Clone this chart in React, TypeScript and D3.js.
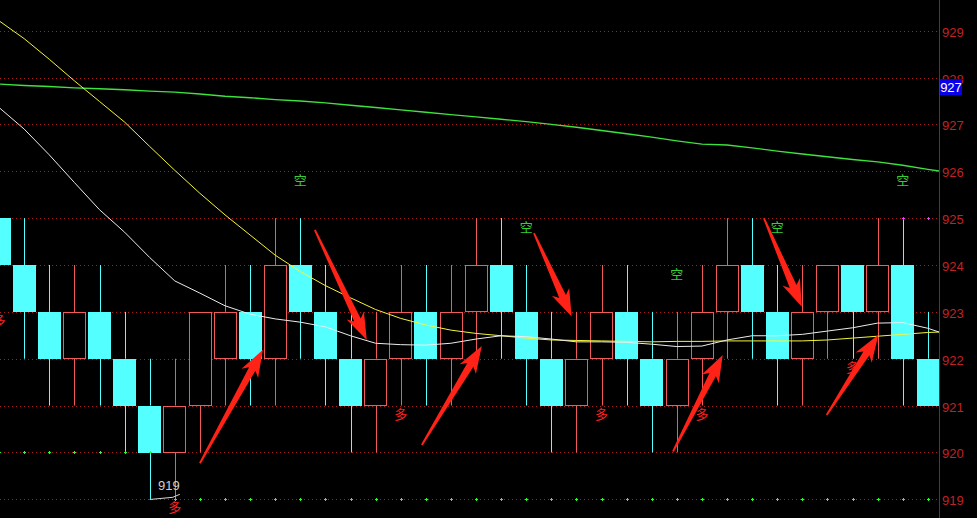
import React from "react";
import * as d3 from "d3";

// Bar prices, one entry per bar (index 0 is the left-most, partly clipped bar)
const opens = [925, 924, 923, 922, 923, 922, 921, 920, 921, 922, 923, 922, 924, 923, 922, 921, 922, 923, 922, 923, 924, 923, 922, 921, 922, 923, 922, 921, 922, 923, 924, 923, 922, 923, 924, 923, 924, 922];
const highs = [925, 925, 924, 924, 924, 923, 922, 922, 923, 924, 924, 925, 925, 924, 923, 923, 924, 924, 924, 925, 925, 924, 923, 923, 924, 924, 923, 923, 924, 925, 925, 924, 924, 924, 924, 925, 925, 923];
const lows = [923, 922, 921, 921, 921, 920, 919, 919, 920, 921, 921, 921, 922, 921, 920, 920, 921, 921, 921, 922, 922, 921, 920, 920, 921, 921, 920, 920, 921, 922, 922, 921, 921, 922, 922, 922, 921, 921];
const closes = [924, 923, 922, 923, 922, 921, 920, 921, 923, 923, 922, 924, 923, 922, 921, 922, 923, 922, 923, 924, 923, 922, 921, 922, 923, 922, 921, 922, 923, 924, 923, 922, 923, 924, 923, 924, 922, 921];

// Moving averages (one more point than bars: the line runs on past the last bar)
const maShort = [927.36, 926.9, 926.35, 925.76, 925.18, 924.7, 924.16, 923.66, 923.4, 923.13, 922.95, 922.85, 922.78, 922.68, 922.49, 922.33, 922.3, 922.29, 922.33, 922.42, 922.49, 922.47, 922.42, 922.36, 922.36, 922.35, 922.31, 922.26, 922.27, 922.4, 922.49, 922.49, 922.52, 922.59, 922.66, 922.76, 922.77, 922.65, 922.47];
const maMid = [929.21, 928.83, 928.39, 927.93, 927.49, 927.05, 926.53, 926.02, 925.53, 925.07, 924.64, 924.21, 923.86, 923.56, 923.3, 923.05, 922.86, 922.72, 922.61, 922.54, 922.49, 922.44, 922.4, 922.39, 922.38, 922.37, 922.36, 922.37, 922.37, 922.38, 922.38, 922.38, 922.38, 922.4, 922.44, 922.48, 922.52, 922.56, 922.58];
const maLong = [927.86, 927.83, 927.81, 927.78, 927.76, 927.74, 927.71, 927.69, 927.65, 927.6, 927.57, 927.53, 927.5, 927.46, 927.41, 927.36, 927.31, 927.26, 927.21, 927.16, 927.11, 927.06, 927.0, 926.94, 926.87, 926.8, 926.73, 926.65, 926.58, 926.56, 926.5, 926.43, 926.37, 926.31, 926.25, 926.2, 926.13, 926.04, 925.96];

// Support / resistance markers per bar
const supportLevels = [920, 920, 920, 920, 920, 920, 920, 919, 919, 919, 919, 919, 919, 919, 919, 919, 919, 919, 919, 919, 919, 919, 919, 919, 919, 919, 919, 919, 919, 919, 919, 919, 919, 919, 919, 919, 919, 919];
const resistanceBars = [36, 37];
const resistanceLevel = 925;

// Signal labels
const shortSignalBars = [12, 21, 27, 31, 36];
const longSignalBars = [0, 7, 16, 24, 28, 34];

// Price axis
const priceTicks = [919, 920, 921, 922, 923, 924, 925, 926, 927, 928, 929];
const lastPrice = 927;
const lastPriceLevel = 928;
const lowestBar = 6;
const lowestPrice = 919;

// Annotation arrows: [bar index, price] from tail to tip
const arrows: [number, number, number, number][] = [
  [8.0, 919.77, 10.51, 922.19],
  [12.58, 924.75, 14.65, 922.4],
  [16.84, 920.16, 19.23, 922.27],
  [21.31, 924.68, 22.81, 922.9],
  [26.85, 920.02, 28.83, 922.08],
  [30.47, 925.0, 31.98, 923.11],
  [32.97, 920.8, 35.03, 922.51],
];

const W = 977;
const H = 518;
const plotRight = 939;

const UP = "#f25a5a";
const DOWN = "#54ffff";

function arrowPath(x1: number, y1: number, x2: number, y2: number) {
  const dx = x2 - x1, dy = y2 - y1;
  const L = Math.hypot(dx, dy);
  const ux = dx / L, uy = dy / L;
  const nx = -uy, ny = ux;
  const headLen = 27, headW = 9.5, shaftW = 3.6, tailW = 0.9, notch = 5;
  const bx = x2 - ux * (headLen - notch), by = y2 - uy * (headLen - notch);
  const hx = x2 - ux * headLen, hy = y2 - uy * headLen;
  const pts: [number, number][] = [
    [x1 + nx * tailW, y1 + ny * tailW],
    [bx + nx * shaftW, by + ny * shaftW],
    [hx + nx * headW, hy + ny * headW],
    [x2, y2],
    [hx - nx * headW, hy - ny * headW],
    [bx - nx * shaftW, by - ny * shaftW],
    [x1 - nx * tailW, y1 - ny * tailW],
  ];
  return "M" + pts.map((p) => p[0].toFixed(1) + "," + p[1].toFixed(1)).join("L") + "Z";
}

function Cross({ cx, cy, color }: { cx: number; cy: number; color: string }) {
  return (
    <g fill={color}>
      <rect x={cx - 1} y={cy} width={3} height={1} />
      <rect x={cx} y={cy - 1} width={1} height={3} />
    </g>
  );
}

export default function App() {
  const x = d3.scaleLinear().domain([0, 37]).range([-0.9, 927.8]);
  const y = d3.scaleLinear().domain([919, 929]).range([499.3, 30.7]);
  const bodyHalf = 11.3;

  const line = d3
    .line<number>()
    .x((_, i) => x(i))
    .y((d) => y(d));

  const px = (v: number) => Math.round(v) + 0.5;

  return (
    <svg
      width={W}
      height={H}
      style={{ position: "absolute", left: 0, top: 0, display: "block", background: "#000" }}
    >
      <defs>
        <clipPath id="plot">
          <rect x={0} y={0} width={plotRight} height={H} />
        </clipPath>
      </defs>
      <rect x={0} y={0} width={W} height={H} fill="#000" />

      {/* dotted price grid */}
      {priceTicks.map((p) => (
        <line
          key={"g" + p}
          x1={0}
          x2={plotRight}
          y1={px(y(p))}
          y2={px(y(p))}
          stroke="#a81e1e"
          strokeWidth={1}
          strokeDasharray="1 3"
        />
      ))}

      <g clipPath="url(#plot)">
        {/* candles */}
        {opens.map((o, i) => {
          const c = closes[i];
          const up = c > o;
          const cx = x(i);
          const wx = px(cx);
          const top = y(Math.max(o, c));
          const bot = y(Math.min(o, c));
          const col = up ? UP : DOWN;
          return (
            <g key={"c" + i}>
              <line x1={wx} x2={wx} y1={y(highs[i])} y2={top} stroke={col} strokeWidth={1} />
              <line x1={wx} x2={wx} y1={bot} y2={y(lows[i])} stroke={col} strokeWidth={1} />
              {up ? (
                <rect
                  x={Math.round(cx - bodyHalf) + 0.5}
                  y={Math.round(top) + 0.5}
                  width={Math.round(bodyHalf * 2) - 1}
                  height={Math.round(bot - top) - 1}
                  fill="#000"
                  stroke={col}
                  strokeWidth={1}
                />
              ) : (
                <rect
                  x={Math.round(cx - bodyHalf)}
                  y={Math.round(top)}
                  width={Math.round(bodyHalf * 2)}
                  height={Math.round(bot - top)}
                  fill={col}
                />
              )}
            </g>
          );
        })}

        {/* support markers */}
        {supportLevels.map((lv, i) => (
          <Cross key={"s" + i} cx={Math.round(x(i))} cy={Math.round(y(lv))} color="#2aff2a" />
        ))}
        {resistanceBars.map((i) => (
          <Cross key={"r" + i} cx={Math.round(x(i))} cy={Math.round(y(resistanceLevel))} color="#ff33ff" />
        ))}

        {/* moving averages */}
        <path d={line(maLong) || ""} fill="none" stroke="#3ee23e" strokeWidth={1.4} />
        <path d={line(maMid) || ""} fill="none" stroke="#f4f43c" strokeWidth={1} />
        <path d={line(maShort) || ""} fill="none" stroke="#ececec" strokeWidth={1} />

        {/* lowest price marker */}
        <polyline
          points={`${x(lowestBar)},${px(y(lowestPrice))} ${x(lowestBar + 1) - 2},${y(lowestPrice) - 2} ${x(lowestBar + 1) + 5},${y(lowestPrice) - 5}`}
          fill="none"
          stroke="#d8d8d8"
          strokeWidth={1}
        />
        <text
          x={x(lowestBar + 1) + 5}
          y={y(lowestPrice) - 9}
          textAnchor="end"
          fill="#cfcfcf"
          fontSize={13}
          fontFamily="'Liberation Sans', Arial, sans-serif"
        >
          {lowestPrice}
        </text>

        {/* signal labels */}
        {shortSignalBars.map((i) => (
          <text
            key={"k" + i}
            x={x(i)}
            y={y(highs[i]) - 33}
            textAnchor="middle"
            fill="#35cf35"
            fontSize={13}
            fontFamily="'Noto Sans CJK SC', sans-serif"
          >
            空
          </text>
        ))}
        {longSignalBars.map((i) => (
          <text
            key={"d" + i}
            x={x(i)}
            y={y(lows[i]) + 13}
            textAnchor="middle"
            fill="#ff2020"
            fontSize={13}
            fontFamily="'Noto Sans CJK SC', sans-serif"
          >
            多
          </text>
        ))}

        {/* annotation arrows */}
        {arrows.map((a, k) => (
          <path key={"a" + k} d={arrowPath(x(a[0]), y(a[1]), x(a[2]), y(a[3]))} fill="#ff2217" />
        ))}
      </g>

      {/* price axis */}
      <line x1={plotRight + 0.5} x2={plotRight + 0.5} y1={0} y2={H} stroke="#8e1f1f" strokeWidth={1} />
      {priceTicks.map((p) => (
        <text
          key={"t" + p}
          x={plotRight + 3}
          y={y(p) + 6}
          fill="#c02222"
          fontSize={13}
          fontFamily="'Liberation Sans', Arial, sans-serif"
        >
          {p}
        </text>
      ))}
      <rect x={plotRight + 1} y={Math.round(y(lastPriceLevel)) + 1} width={22} height={16} fill="#0a00e8" />
      <text
        x={plotRight + 12}
        y={y(lastPriceLevel) + 14}
        textAnchor="middle"
        fill="#ffffff"
        fontSize={13}
        fontFamily="'Liberation Sans', Arial, sans-serif"
      >
        {lastPrice}
      </text>
    </svg>
  );
}
